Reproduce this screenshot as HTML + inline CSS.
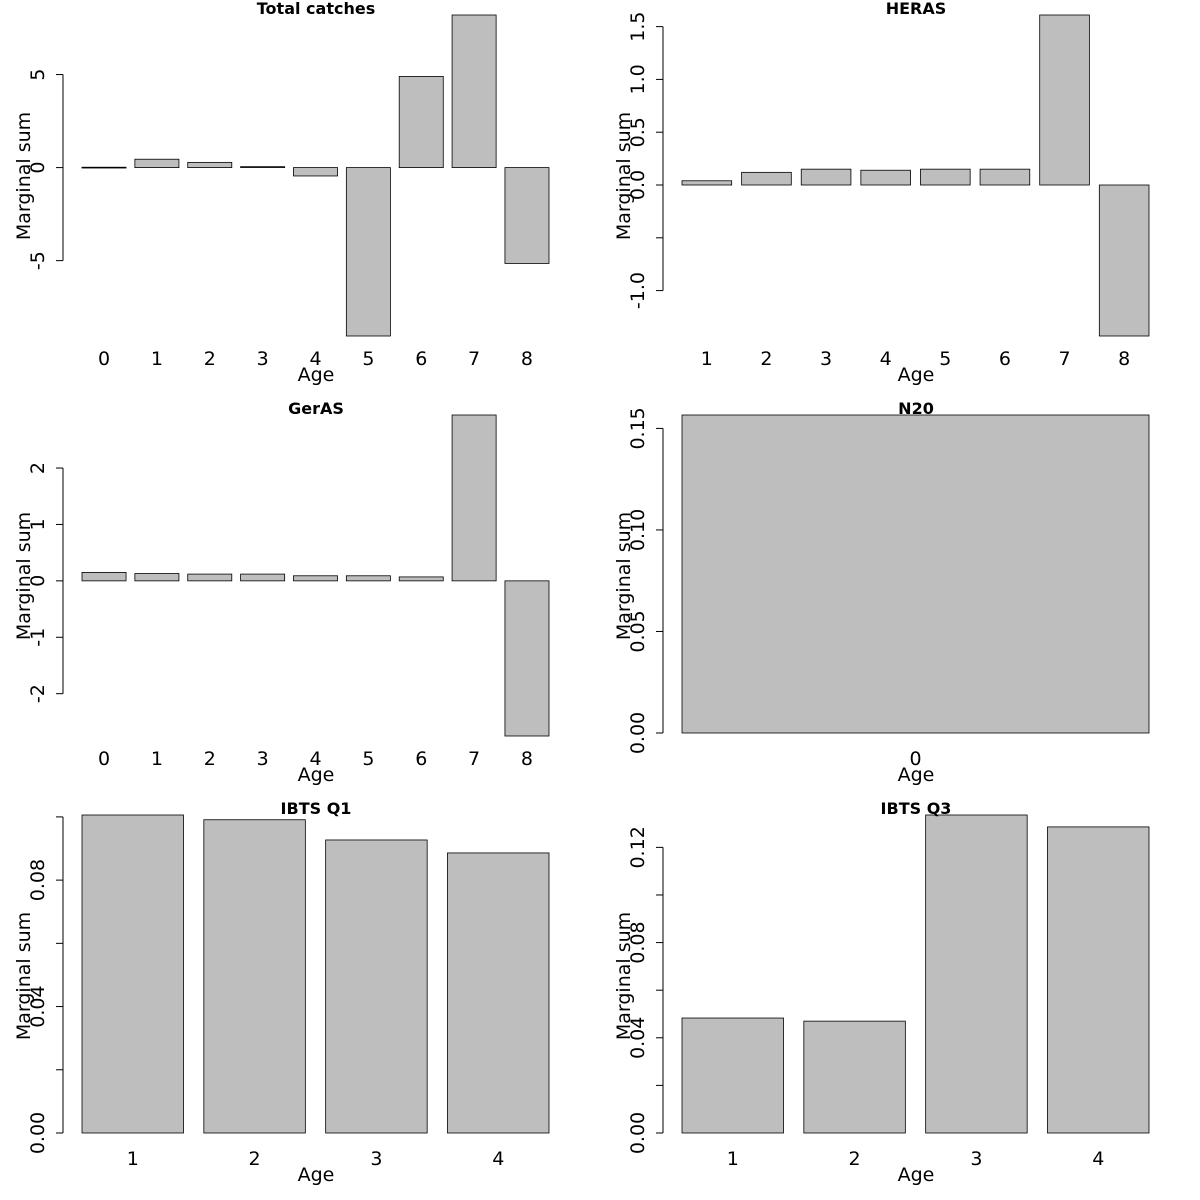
<!DOCTYPE html>
<html><head><meta charset="utf-8"><style>
html,body{margin:0;padding:0;background:#fff;}
svg{display:block;font-family:"DejaVu Sans","Liberation Sans",sans-serif;}
</style></head><body>
<svg id="chart" width="1200" height="1200" viewBox="0 0 1200 1200" xmlns="http://www.w3.org/2000/svg"></svg>
<script>
const titles = ["Total catches","HERAS","GerAS","N20","IBTS Q1","IBTS Q3"];
const cats1 = ["0","1","2","3","4","5","6","7","8"];
const vals1 = [0.02,0.45,0.28,0.05,-0.45,-9.05,4.9,8.2,-5.15];
const ticks1 = [-5,0,5];
const tlab1 = ["-5","0","5"];
const cats2 = ["1","2","3","4","5","6","7","8"];
const vals2 = [0.04,0.12,0.15,0.14,0.15,0.15,1.61,-1.43];
const ticks2 = [-1.0,-0.5,0,0.5,1.0,1.5];
const tlab2 = ["-1.0","","0.0","0.5","1.0","1.5"];
const cats3 = ["0","1","2","3","4","5","6","7","8"];
const vals3 = [0.15,0.13,0.12,0.12,0.09,0.09,0.07,2.94,-2.75];
const ticks3 = [-2,-1,0,1,2];
const tlab3 = ["-2","-1","0","1","2"];
const cats4 = ["0"];
const vals4 = [0.1566];
const ticks4 = [0,0.05,0.10,0.15];
const tlab4 = ["0.00","0.05","0.10","0.15"];
const cats5 = ["1","2","3","4"];
const vals5 = [0.1006,0.0991,0.0927,0.0886];
const ticks5 = [0,0.02,0.04,0.06,0.08,0.10];
const tlab5 = ["0.00","","0.04","","0.08",""];
const cats6 = ["1","2","3","4"];
const vals6 = [0.0483,0.047,0.1336,0.1286];
const ticks6 = [0,0.02,0.04,0.06,0.08,0.10,0.12];
const tlab6 = ["0.00","","0.04","","0.08","","0.12"];

const panels = [
 [cats1,vals1,ticks1,tlab1],[cats2,vals2,ticks2,tlab2],[cats3,vals3,ticks3,tlab3],
 [cats4,vals4,ticks4,tlab4],[cats5,vals5,ticks5,tlab5],[cats6,vals6,ticks6,tlab6]
];
const svg = document.getElementById('chart');
const NS = 'http://www.w3.org/2000/svg';
function mk(tag, attrs, parent){
  const e = document.createElementNS(NS, tag);
  for (const k in attrs) e.setAttribute(k, attrs[k]);
  parent.appendChild(e);
  return e;
}
panels.forEach((p, i) => {
  const [cats, vals, ticks, tlab] = p;
  const ox = (i % 2) * 600, oy = Math.floor(i / 2) * 400;
  const g = mk('g', {transform: `translate(${ox},${oy})`}, svg);
  
  
  const lo = Math.min(0, ...vals), hi = Math.max(0, ...vals);
  const top = 15, bot = lo < 0 ? 336 : 333;
  const y = v => top + (hi - v) / (hi - lo) * (bot - top);
  const left = 82, right = 549, n = cats.length;
  const w = (right - left) / (n + 0.2 * (n - 1));
  const xb = k => left + k * 1.2 * w;
  vals.forEach((v, k) => {
    const r = mk('rect', {x: xb(k), y: Math.min(y(v), y(0)), width: w,
      height: Math.max(0.8, Math.abs(y(v) - y(0))), fill: '#bebebe', stroke: '#000', 'stroke-width': 0.8}, g);
    
    
    const t = mk('text', {x: xb(k) + w / 2, y: 365, 'font-size': 19, 'text-anchor': 'middle'}, g);
    t.textContent = cats[k];
    
    
  });
  const ax = mk('line', {x1: 63, x2: 63, y1: y(ticks[0]), y2: y(ticks[ticks.length - 1]), stroke: '#000', 'stroke-width': 1}, g);
  
  
  ticks.forEach((tv, k) => {
    mk('line', {x1: 56, x2: 63, y1: y(tv), y2: y(tv), stroke: '#000', 'stroke-width': 1}, g);
    if (tlab[k]) {
      const t = mk('text', {x: 0, y: 0, 'font-size': 19, 'text-anchor': 'middle',
        transform: `translate(44,${y(tv)}) rotate(-90)`}, g);
      t.textContent = tlab[k];
      
      
    }
  });
  const tt = mk('text', {x: 316, y: 14, 'font-size': 16, 'font-weight': 'bold', 'text-anchor': 'middle'}, g);
  tt.textContent = titles[i];
  
  
  const xl = mk('text', {x: 316, y: 381, 'font-size': 19, 'text-anchor': 'middle'}, g);
  xl.textContent = 'Age';
  
  
  const yl = mk('text', {x: 0, y: 0, 'font-size': 19, 'text-anchor': 'middle',
    transform: 'translate(30,176) rotate(-90)'}, g);
  yl.textContent = 'Marginal sum';
  
  
});
</script>
</body></html>
